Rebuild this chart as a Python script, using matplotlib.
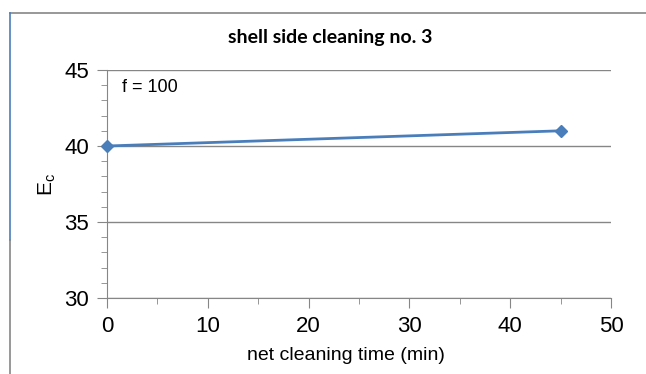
import matplotlib.pyplot as plt
from matplotlib.lines import Line2D
from matplotlib.ticker import MultipleLocator

# cleaning data
time_min = [0, 45]
ec = [40, 41]

x_ticks = [0, 10, 20, 30, 40, 50]
y_ticks = [30, 35, 40, 45]

W, H = 646, 374
fig = plt.figure(figsize=(W / 100, H / 100), dpi=100)
plt.rcParams['font.family'] = ['Liberation Sans', 'DejaVu Sans']

ax = fig.add_axes([107 / W, 1 - 298 / H, (611 - 107) / W, (298 - 70) / H])
ax.plot(time_min, ec, color="#4a7ebb", lw=2, marker="D", ms=6, clip_on=False, zorder=3)

ax.set_xlim(0, 50)
ax.set_ylim(30, 45)
ax.set_xticks(x_ticks)
ax.set_yticks(y_ticks)
ax.xaxis.set_minor_locator(MultipleLocator(5))
ax.yaxis.set_minor_locator(MultipleLocator(1))
ax.tick_params(axis="both", which="major", length=7, color="#868686", labelsize=16)
ax.tick_params(axis="both", which="minor", length=4, color="#868686")
ax.tick_params(axis="x", which="major", pad=6)
ax.tick_params(axis="y", which="major", pad=6)

ax.grid(axis="y", color="#868686", lw=1)
ax.set_axisbelow(True)
for s in ["top", "right"]:
    ax.spines[s].set_visible(False)
for s in ["left", "bottom"]:
    ax.spines[s].set_color("#868686")

ax.set_xlabel("net cleaning time (min)", fontsize=14)
ax.xaxis.set_label_coords(0.474, -0.213)
ax.set_ylabel("E$_\\mathregular{c}$", fontsize=15)
ax.yaxis.set_label_coords(-0.098, 0.5)
ax.text(0.03, 0.96, "f = 100", transform=ax.transAxes, fontsize=13, va="top")

fig.text(330 / W, 1 - 37 / H, "shell side cleaning no. 3", family=["Lato", "DejaVu Sans"],
         weight="bold", fontsize=14, ha="center", va="center")

# chart frame
fig.add_artist(Line2D([10 / W, 1], [1 - 13 / H] * 2, color="#868686", lw=1.2))
fig.add_artist(Line2D([10 / W] * 2, [1 - 13 / H, 1 - 240 / H], color="#4a7ebb", lw=1.2))
fig.add_artist(Line2D([10 / W] * 2, [1 - 240 / H, 0], color="#868686", lw=1.2))

fig.savefig("out.png", dpi=100)
